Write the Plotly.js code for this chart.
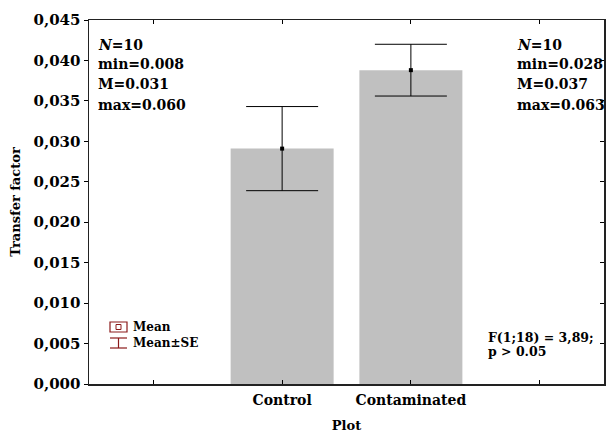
<!DOCTYPE html>
<html><head><meta charset="utf-8">
<script src="https://cdn.plot.ly/plotly-3.0.1.min.js"></script>
<style>html,body{margin:0;padding:0;background:#fff}#chart{width:609px;height:433px}</style>
</head><body><div id="chart"></div>
<script>
const slots = ['', 'Control', 'Contaminated', ''];
const groups = ['Control', 'Contaminated'];
const means = [0.0291, 0.0388];
const se = [0.0052, 0.0032];
const yTickVals = [0, 0.005, 0.010, 0.015, 0.020, 0.025, 0.030, 0.035, 0.040, 0.045];
const yTickText = ['0,000','0,005','0,010','0,015','0,020','0,025','0,030','0,035','0,040','0,045'];
const statsLeft = ['<i>N</i>=10', 'min=0.008', 'M=0.031', 'max=0.060'];
const statsRight = ['<i>N</i>=10', 'min=0.028', 'M=0.037', 'max=0.063'];
const testText = ['F(1;18) = 3,89;', 'p > 0.05'];

const xs = groups.map(g => slots.indexOf(g));
const F = 'DejaVu Serif';
const dark = '#8b1a1a';
const px = v => (v-89)/515, py = v => (384-v)/364;

const traces = [
  {type:'bar', x: xs, y: means, width: 0.8, marker:{color:'#c0c0c0', line:{width:0}}, hoverinfo:'none', showlegend:false},
  {type:'scatter', mode:'markers', x: xs, y: means,
   marker:{symbol:'square', size:4, color:'#000'},
   error_y:{type:'data', array: se, visible:true, color:'#000', thickness:1, width:36},
   showlegend:false},
  {type:'scatter', x:[0], y:[0], yaxis:'y2', mode:'markers', marker:{opacity:0}, showlegend:false, hoverinfo:'none'}
];

const lineY = [45, 64, 84, 105];
const anns = [];
statsLeft.forEach((t,i)=>anns.push({xref:'paper', yref:'paper', x:px(96), y:py(lineY[i]), xanchor:'left', yanchor:'middle',
  text:'<b>'+t+'</b>', showarrow:false, font:{family:F, size:14, color:'#000'}}));
statsRight.forEach((t,i)=>anns.push({xref:'paper', yref:'paper', x:px(515), y:py(lineY[i]), xanchor:'left', yanchor:'middle',
  text:'<b>'+t+'</b>', showarrow:false, font:{family:F, size:14, color:'#000'}}));
testText.forEach((t,i)=>anns.push({xref:'paper', yref:'paper', x:px(486), y:py([337,351][i]), xanchor:'left', yanchor:'middle',
  text:'<b>'+t+'</b>', showarrow:false, font:{family:F, size:12.5, color:'#000'}}));
anns.push({xref:'paper', yref:'paper', x:px(131), y:py(327), xanchor:'left', yanchor:'middle',
  text:'<b>Mean</b>', showarrow:false, font:{family:F, size:12, color:'#000'}});
anns.push({xref:'paper', yref:'paper', x:px(131), y:py(343), xanchor:'left', yanchor:'middle',
  text:'<b>Mean±SE</b>', showarrow:false, font:{family:F, size:12, color:'#000'}});

const layout = {
  width:609, height:433,
  margin:{l:89, r:5, t:20, b:49},
  paper_bgcolor:'#fff', plot_bgcolor:'#fff',
  font:{family:F, color:'#000'},
  showlegend:false,
  xaxis:{range:[-0.5,3.5], tickvals: slots.map((s,i)=>i), ticktext: slots,
    ticks:'inside', ticklen:4, tickcolor:'#000', mirror:'ticks', ticklabelstandoff:3,
    showgrid:false, zeroline:false, showline:true, linecolor:'#222', linewidth:1.5,
    tickfont:{family:F, size:14, color:'#000', weight:'bold'},
    title:{text:'<b>Plot</b>', font:{family:F, size:13, color:'#000'}, standoff:13}},
  yaxis:{range:[0,0.045], tickvals: yTickVals, ticktext: yTickText, ticks:'outside', ticklen:4, tickwidth:1, tickcolor:'#000',
    showgrid:false, zeroline:false, showline:true, linecolor:'#222', linewidth:1.5, mirror:true,
    tickfont:{family:F, size:15, color:'#000', weight:'bold'},
    title:{text:'<b>Transfer factor</b>', font:{family:F, size:13, color:'#000'}, standoff:10}},
  yaxis2:{overlaying:'y', side:'right', range:[0,0.045], tickvals: yTickVals, showticklabels:false,
    ticks:'inside', ticklen:4, tickcolor:'#000', showgrid:false, zeroline:false, showline:false},
  annotations: anns,
  shapes:[
    {type:'rect', xref:'paper', yref:'paper', x0:px(110), x1:px(127), y0:py(332), y1:py(322), line:{color:dark, width:1.2}},
    {type:'rect', xref:'paper', yref:'paper', x0:px(116), x1:px(121), y0:py(329.5), y1:py(324.5), line:{color:dark, width:1}},
    {type:'line', xref:'paper', yref:'paper', x0:px(110), x1:px(127), y0:py(338), y1:py(338), line:{color:dark, width:1.2}},
    {type:'line', xref:'paper', yref:'paper', x0:px(110), x1:px(127), y0:py(348), y1:py(348), line:{color:dark, width:1.2}},
    {type:'line', xref:'paper', yref:'paper', x0:px(118.5), x1:px(118.5), y0:py(338), y1:py(348), line:{color:dark, width:1.2}}
  ]
};
Plotly.newPlot('chart', traces, layout, {staticPlot:true, displayModeBar:false});
</script></body></html>
